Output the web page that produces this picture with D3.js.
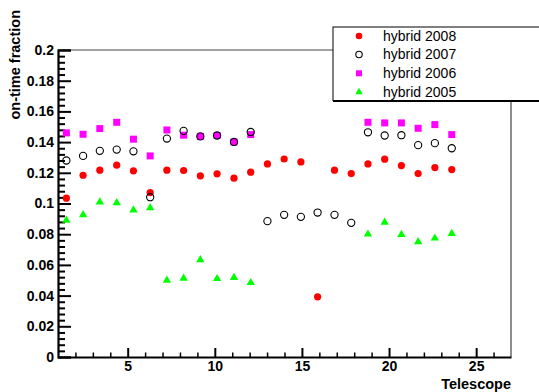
<!DOCTYPE html>
<html>
<head>
<meta charset="utf-8">
<script src="https://cdn.jsdelivr.net/npm/d3@7"></script>
<style>
  html, body { margin: 0; padding: 0; background: #fff; }
  svg { display: block; }
  text { font-family: "Liberation Sans", Arial, Helvetica, sans-serif; }
</style>
</head>
<body>
<svg id="chart" width="539" height="392"></svg>
<script>
// ---- data ----
const telescope = [1.48, 2.44, 3.40, 4.37, 5.33, 6.29, 7.25, 8.21, 9.17, 10.13, 11.10, 12.06,
                   13.02, 13.98, 14.94, 15.90, 16.87, 17.83, 18.79, 19.75, 20.71, 21.67, 22.63, 23.60];
const hybrid2008 = [0.1035, 0.1184, 0.1217, 0.1250, 0.1213, 0.1071, 0.1217, 0.1215, 0.1180, 0.1193, 0.1165, 0.1204,
                    0.1258, 0.1290, 0.1271, 0.0392, 0.1217, 0.1195, 0.1258, 0.1289, 0.1247, 0.1195, 0.1234, 0.1221];
const hybrid2007 = [0.1280, 0.1310, 0.1343, 0.1351, 0.1340, 0.1041, 0.1423, 0.1473, 0.1437, 0.1443, 0.1401, 0.1466,
                    0.0885, 0.0926, 0.0913, 0.0941, 0.0926, 0.0874, 0.1464, 0.1443, 0.1445, 0.1380, 0.1393, 0.1360];
const hybrid2006 = [0.1460, 0.1451, 0.1488, 0.1529, 0.1419, 0.1310, 0.1479, 0.1445, 0.1437, 0.1443, 0.1401, 0.1449,
                    null, null, null, null, null, null, 0.1529, 0.1525, 0.1525, 0.1490, 0.1514, 0.1449];
const hybrid2005 = [0.0890, 0.0926, 0.1009, 0.1004, 0.0957, 0.0972, 0.0499, 0.0512, 0.0633, 0.0510, 0.0518, 0.0484,
                    null, null, null, null, null, null, 0.0800, 0.0878, 0.0798, 0.0750, 0.0774, 0.0804];
const xMajorTicks = [5, 10, 15, 20, 25];
const xMinorTicks = [2, 3, 4, 6, 7, 8, 9, 11, 12, 13, 14, 16, 17, 18, 19, 21, 22, 23, 24, 26];
const yMajorTicks = [0, 0.02, 0.04, 0.06, 0.08, 0.1, 0.12, 0.14, 0.16, 0.18, 0.2];
const yTickLabels = ["0", "0.02", "0.04", "0.06", "0.08", "0.1", "0.12", "0.14", "0.16", "0.18", "0.2"];
const seriesNames = ["hybrid 2008", "hybrid 2007", "hybrid 2006", "hybrid 2005"];

// ---- layout ----
const svg = d3.select("#chart");
const L = 58, R = 511, T = 50, B = 357;
const x = d3.scaleLinear().domain([1, 27]).range([L, R]);
const y = d3.scaleLinear().domain([0, 0.2]).range([B, T]);
const FONT = "Liberation Sans, Arial, sans-serif";

// frame top/right (thin grey)
svg.append("line").attr("x1", L).attr("x2", R).attr("y1", T).attr("y2", T)
  .attr("stroke", "#444").attr("stroke-width", 1);
svg.append("line").attr("x1", R).attr("x2", R).attr("y1", T).attr("y2", B)
  .attr("stroke", "#444").attr("stroke-width", 1.2);

// y minor ticks
const yMinor = [];
for (let i = 0; i < yMajorTicks.length - 1; i++) {
  for (let j = 1; j < 5; j++) yMinor.push(+(yMajorTicks[i] + j * 0.004).toFixed(3));
}
svg.append("g").attr("transform", `translate(${L},0)`)
  .call(d3.axisLeft(y).tickValues(yMinor).tickSize(-7).tickFormat(""))
  .call(g => g.select(".domain").remove())
  .call(g => g.selectAll("line").attr("stroke", "#000").attr("stroke-width", 2));

// y major axis
svg.append("g").attr("transform", `translate(${L},0)`)
  .call(d3.axisLeft(y).tickValues(yMajorTicks).tickSize(-13).tickPadding(4)
        .tickFormat((d, i) => yTickLabels[i]))
  .call(g => g.select(".domain").attr("stroke", "#000").attr("stroke-width", 2.2))
  .call(g => g.selectAll("line").attr("stroke", "#000").attr("stroke-width", 2))
  .call(g => g.selectAll("text").attr("x", -4).attr("font-size", 14).attr("font-weight", "bold")
        .attr("fill", "#000").attr("font-family", FONT));

// x minor ticks
svg.append("g").attr("transform", `translate(0,${B})`)
  .call(d3.axisBottom(x).tickValues(xMinorTicks).tickSize(-4.5).tickFormat(""))
  .call(g => g.select(".domain").remove())
  .call(g => g.selectAll("line").attr("stroke", "#000").attr("stroke-width", 1.5));

// x major axis
svg.append("g").attr("transform", `translate(0,${B})`)
  .call(d3.axisBottom(x).tickValues(xMajorTicks).tickSize(-9).tickSizeOuter(0).tickPadding(4))
  .call(g => g.select(".domain").attr("stroke", "#000").attr("stroke-width", 2.2))
  .call(g => g.selectAll("line").attr("stroke", "#000").attr("stroke-width", 2))
  .call(g => g.selectAll("text").attr("y", 4.5).attr("font-size", 14).attr("font-weight", "bold")
        .attr("fill", "#000").attr("font-family", FONT));

// axis titles
svg.append("text").attr("x", R).attr("y", 389).attr("text-anchor", "end")
  .attr("font-size", 14.5).attr("font-weight", "bold").text("Telescope");
svg.append("text").attr("transform", "translate(20,10) rotate(-90)").attr("text-anchor", "end")
  .attr("font-size", 14.5).attr("font-weight", "bold").text("on-time fraction");

// ---- markers ----
const data = (vals) => telescope.map((t, i) => ({ t, v: vals[i] })).filter(d => d.v !== null);
const g = svg.append("g");
const sqSym = d3.symbol().type(d3.symbolSquare).size(49);
const triSym = d3.symbol().type(d3.symbolTriangle).size(30);

// 2008 red filled circles
g.selectAll(".s08").data(data(hybrid2008)).join("circle")
  .attr("cx", d => x(d.t)).attr("cy", d => y(d.v)).attr("r", 3.6).attr("fill", "#ff0000");
// 2006 magenta squares
g.selectAll(".s06").data(data(hybrid2006)).join("path")
  .attr("transform", d => `translate(${x(d.t)},${y(d.v)})`).attr("d", sqSym).attr("fill", "#ff00ff");
// 2007 open circles
g.selectAll(".s07").data(data(hybrid2007)).join("circle")
  .attr("cx", d => x(d.t)).attr("cy", d => y(d.v)).attr("r", 3.6)
  .attr("fill", "none").attr("stroke", "#000").attr("stroke-width", 1.1);
// 2005 green triangles
g.selectAll(".s05").data(data(hybrid2005)).join("path")
  .attr("transform", d => `translate(${x(d.t)},${y(d.v)})`).attr("d", triSym).attr("fill", "#00ff00");

// ---- legend ----
const lg = svg.append("g");
lg.append("rect").attr("x", 333).attr("y", 27).attr("width", 220).attr("height", 73.5)
  .attr("fill", "#fff").attr("stroke", "#000").attr("stroke-width", 1);
lg.append("line").attr("x1", 333).attr("x2", 539).attr("y1", 101).attr("y2", 101)
  .attr("stroke", "#000").attr("stroke-width", 2);
const rowsY = [36, 54.5, 73.3, 92];
const mx = 359, tx = 383;
seriesNames.forEach((name, i) => {
  lg.append("text").attr("x", tx).attr("y", rowsY[i]).attr("dy", "0.35em")
    .attr("font-size", 14).attr("fill", "#000").text(name);
});
lg.append("circle").attr("cx", mx).attr("cy", rowsY[0]).attr("r", 3.3).attr("fill", "#ff0000");
lg.append("circle").attr("cx", mx).attr("cy", rowsY[1]).attr("r", 3.2)
  .attr("fill", "none").attr("stroke", "#000").attr("stroke-width", 1.1);
lg.append("path").attr("transform", `translate(${mx},${rowsY[2]})`)
  .attr("d", d3.symbol().type(d3.symbolSquare).size(36)).attr("fill", "#ff00ff");
lg.append("path").attr("transform", `translate(${mx},${rowsY[3]})`)
  .attr("d", d3.symbol().type(d3.symbolTriangle).size(24)).attr("fill", "#00ff00");
</script>
</body>
</html>
